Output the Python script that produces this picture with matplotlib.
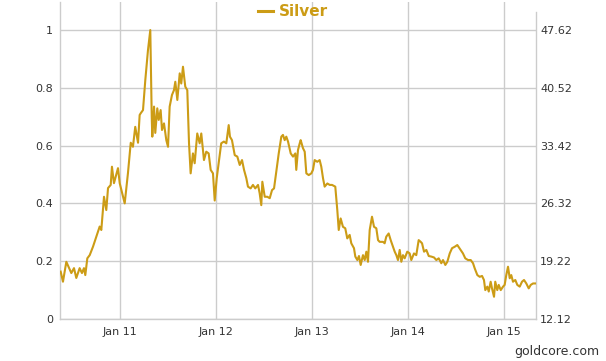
import matplotlib
matplotlib.use("Agg")
import matplotlib.pyplot as plt
from matplotlib.lines import Line2D

GOLD = "#cc9c16"
GRID = "#cccccc"
TXT = "#333333"

# silver, normalised 0..1 (left axis), x in decimal years
years = [
    2010.378, 2010.402, 2010.437, 2010.489, 2010.517, 2010.541, 2010.576, 2010.600, 2010.621, 2010.635,
    2010.656, 2010.681, 2010.715, 2010.750, 2010.785, 2010.802, 2010.830, 2010.854, 2010.872, 2010.900,
    2010.913, 2010.934, 2010.976, 2010.994, 2011.046, 2011.080, 2011.109, 2011.132, 2011.156, 2011.185,
    2011.202, 2011.213, 2011.237, 2011.261, 2011.289, 2011.313, 2011.320, 2011.328, 2011.334, 2011.352,
    2011.365, 2011.386, 2011.401, 2011.421, 2011.435, 2011.456, 2011.480, 2011.498, 2011.515, 2011.539,
    2011.560, 2011.574, 2011.595, 2011.620, 2011.636, 2011.654, 2011.678, 2011.699, 2011.717, 2011.734,
    2011.758, 2011.776, 2011.803, 2011.828, 2011.845, 2011.873, 2011.897, 2011.922, 2011.943, 2011.967,
    2011.985, 2012.006, 2012.053, 2012.081, 2012.106, 2012.131, 2012.144, 2012.165, 2012.194, 2012.221,
    2012.246, 2012.270, 2012.291, 2012.315, 2012.332, 2012.360, 2012.384, 2012.408, 2012.437, 2012.454,
    2012.471, 2012.482, 2012.507, 2012.534, 2012.559, 2012.583, 2012.604, 2012.628, 2012.653, 2012.680,
    2012.697, 2012.715, 2012.732, 2012.750, 2012.778, 2012.802, 2012.826, 2012.836, 2012.854, 2012.872,
    2012.882, 2012.906, 2012.924, 2012.941, 2012.966, 2012.993, 2013.010, 2013.028, 2013.055, 2013.080,
    2013.097, 2013.115, 2013.132, 2013.160, 2013.185, 2013.209, 2013.243, 2013.264, 2013.279, 2013.299,
    2013.323, 2013.347, 2013.368, 2013.393, 2013.410, 2013.438, 2013.452, 2013.473, 2013.490, 2013.508,
    2013.532, 2013.550, 2013.567, 2013.584, 2013.602, 2013.626, 2013.647, 2013.671, 2013.689, 2013.706,
    2013.741, 2013.758, 2013.775, 2013.800, 2013.821, 2013.845, 2013.863, 2013.880, 2013.897, 2013.915,
    2013.932, 2013.949, 2013.967, 2013.994, 2014.019, 2014.036, 2014.064, 2014.088, 2014.113, 2014.134,
    2014.148, 2014.169, 2014.193, 2014.218, 2014.245, 2014.273, 2014.297, 2014.322, 2014.349, 2014.367,
    2014.391, 2014.412, 2014.437, 2014.461, 2014.489, 2014.516, 2014.551, 2014.575, 2014.599, 2014.628,
    2014.656, 2014.680, 2014.698, 2014.725, 2014.750, 2014.774, 2014.794, 2014.808, 2014.829, 2014.844,
    2014.864, 2014.878, 2014.899, 2014.912, 2014.933, 2014.948, 2014.969, 2014.993, 2015.010, 2015.027,
    2015.045, 2015.063, 2015.079, 2015.097, 2015.121, 2015.142, 2015.167, 2015.191, 2015.212, 2015.236,
    2015.261, 2015.282, 2015.306, 2015.330,
]
silver = [
    0.164, 0.129, 0.198, 0.159, 0.176, 0.142, 0.176, 0.159, 0.176, 0.152,
    0.210, 0.221, 0.250, 0.285, 0.320, 0.308, 0.423, 0.377, 0.453, 0.464,
    0.527, 0.470, 0.522, 0.470, 0.400, 0.505, 0.610, 0.596, 0.665, 0.610,
    0.706, 0.712, 0.723, 0.827, 0.931, 1.000, 0.860, 0.700, 0.631, 0.735,
    0.644, 0.729, 0.689, 0.723, 0.654, 0.677, 0.619, 0.596, 0.735, 0.775,
    0.792, 0.821, 0.758, 0.850, 0.815, 0.873, 0.804, 0.792, 0.608, 0.504,
    0.573, 0.539, 0.642, 0.608, 0.642, 0.550, 0.579, 0.573, 0.516, 0.504,
    0.410, 0.487, 0.608, 0.614, 0.608, 0.671, 0.631, 0.619, 0.567, 0.562,
    0.533, 0.550, 0.516, 0.487, 0.458, 0.452, 0.464, 0.452, 0.464, 0.435,
    0.394, 0.475, 0.423, 0.423, 0.418, 0.446, 0.452, 0.510, 0.573, 0.631,
    0.637, 0.619, 0.631, 0.614, 0.573, 0.562, 0.573, 0.516, 0.585, 0.608,
    0.619, 0.591, 0.579, 0.504, 0.498, 0.504, 0.516, 0.550, 0.544, 0.550,
    0.527, 0.487, 0.458, 0.469, 0.464, 0.464, 0.458, 0.377, 0.308, 0.348,
    0.319, 0.314, 0.279, 0.291, 0.262, 0.245, 0.216, 0.204, 0.218, 0.187,
    0.221, 0.204, 0.233, 0.198, 0.308, 0.354, 0.319, 0.314, 0.273, 0.267,
    0.267, 0.262, 0.285, 0.296, 0.273, 0.250, 0.233, 0.221, 0.204, 0.239,
    0.198, 0.221, 0.210, 0.233, 0.227, 0.204, 0.227, 0.221, 0.273, 0.267,
    0.262, 0.233, 0.239, 0.218, 0.216, 0.213, 0.204, 0.210, 0.193, 0.204,
    0.187, 0.198, 0.227, 0.245, 0.250, 0.256, 0.239, 0.227, 0.210, 0.204,
    0.204, 0.193, 0.175, 0.152, 0.146, 0.149, 0.135, 0.100, 0.112, 0.095,
    0.129, 0.106, 0.077, 0.129, 0.100, 0.118, 0.100, 0.112, 0.118, 0.152,
    0.181, 0.141, 0.152, 0.129, 0.135, 0.118, 0.112, 0.129, 0.135, 0.123,
    0.106, 0.118, 0.123, 0.123,
]

x_ticks = [2011, 2012, 2013, 2014, 2015]
x_labels = ["Jan 11", "Jan 12", "Jan 13", "Jan 14", "Jan 15"]
y_ticks = [0, 0.2, 0.4, 0.6, 0.8, 1]
y_labels = ["0", "0.2", "0.4", "0.6", "0.8", "1"]
price_labels = ["12.12", "19.22", "26.32", "33.42", "40.52", "47.62"]

plt.rcParams["font.family"] = "DejaVu Sans"

fig = plt.figure(figsize=(6.06, 3.61), dpi=100)
ax = fig.add_axes([60 / 606, 42 / 361, 476 / 606, 317 / 361])

ax.plot(years, silver, color=GOLD, lw=1.5, solid_joinstyle="round", zorder=3)
ax.set_xlim(2010.371, 2015.337)
ax.set_ylim(0, 1.097)

ax.set_xticks(x_ticks)
ax.set_xticklabels(x_labels)
ax.set_yticks(y_ticks)
ax.set_yticklabels(y_labels)
ax.tick_params(axis="both", length=0, labelsize=8, labelcolor=TXT)
ax.tick_params(axis="x", pad=6)
ax.tick_params(axis="y", pad=5)
ax.grid(True, color=GRID, lw=1)
ax.set_axisbelow(True)

for side in ["left", "bottom", "right"]:
    ax.spines[side].set_color(GRID)
    ax.spines[side].set_linewidth(1)
ax.spines["top"].set_visible(False)
ax.spines["right"].set_bounds(0, 1.062)

ax2 = ax.twinx()
ax2.set_ylim(ax.get_ylim())
ax2.set_yticks(y_ticks)
ax2.set_yticklabels(price_labels)
ax2.tick_params(axis="y", length=0, pad=3, labelsize=8, labelcolor=TXT)
for s in ax2.spines.values():
    s.set_visible(False)

handle = Line2D([], [], color=GOLD, lw=2.2)
fig.legend([handle], ["Silver"], loc="center", bbox_to_anchor=(293 / 606, 1 - 12 / 361),
           frameon=False, handlelength=1.0, handletextpad=0.4, borderpad=0,
           prop={"size": 11, "weight": "bold"}, labelcolor=GOLD)

fig.text(599 / 606, 1 - 352 / 361, "goldcore.com", ha="right", va="center",
         fontsize=9, color=TXT)

fig.savefig("out.png", dpi=100)
